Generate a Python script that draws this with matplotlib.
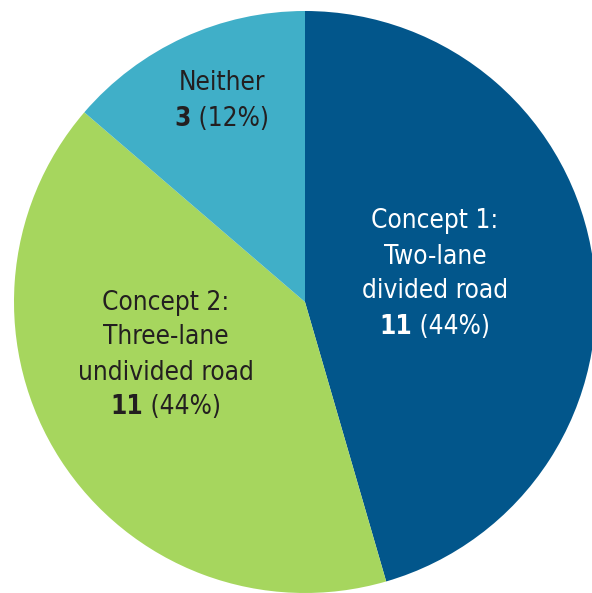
import matplotlib
matplotlib.use("Agg")
import matplotlib.pyplot as plt

# counts as printed on the chart, and the slice shares as drawn
labels = ["Concept 1:\nTwo-lane\ndivided road", "Concept 2:\nThree-lane\nundivided road", "Neither"]
counts = [11, 11, 3]
percents = ["44%", "44%", "12%"]
shares = [45.5, 40.8, 13.7]
colors = ["#02568b", "#a6d65e", "#40afc8"]
text_colors = ["white", "#231f20", "#231f20"]

# the chart uses a condensed sans; DejaVu Sans ships a condensed face
plt.rcParams["font.family"] = ["DejaVu Sans"]
plt.rcParams["font.stretch"] = "condensed"

W, H = 592, 593
fig = plt.figure(figsize=(W / 100, H / 100), dpi=100)
ax = fig.add_axes([0, 0, 1, 1])

ax.pie(shares, colors=colors, startangle=90, counterclock=False,
       center=(305, H - 302), radius=291, frame=True,
       wedgeprops=dict(linewidth=0))
ax.set_xlim(0, W)
ax.set_ylim(0, H)
ax.set_aspect("equal")
ax.axis("off")

# label block centres (pixels from top-left) and line spacing
label_pos = [(435, 274), (166, 355), (222, 101)]
fs = 18.8
step = 35

fig.canvas.draw()
renderer = fig.canvas.get_renderer()

for lab, n, pct, (cx, cy), tc in zip(labels, counts, percents, label_pos, text_colors):
    lines = lab.split("\n")
    total = len(lines) + 1
    y0 = cy - step * (total - 1) / 2
    for i, line in enumerate(lines):
        ax.text(cx, H - (y0 + i * step), line, ha="center", va="center",
                fontsize=fs, color=tc)
    y = H - (y0 + len(lines) * step)
    t1 = ax.text(0, y, str(n), ha="left", va="center", fontsize=fs,
                 fontweight="bold", color=tc)
    t2 = ax.text(0, y, " (" + pct + ")", ha="left", va="center", fontsize=fs, color=tc)
    w1 = t1.get_window_extent(renderer).width
    w2 = t2.get_window_extent(renderer).width
    left = cx - (w1 + w2) / 2
    t1.set_x(left)
    t2.set_x(left + w1)

fig.savefig("out.png", dpi=100)
